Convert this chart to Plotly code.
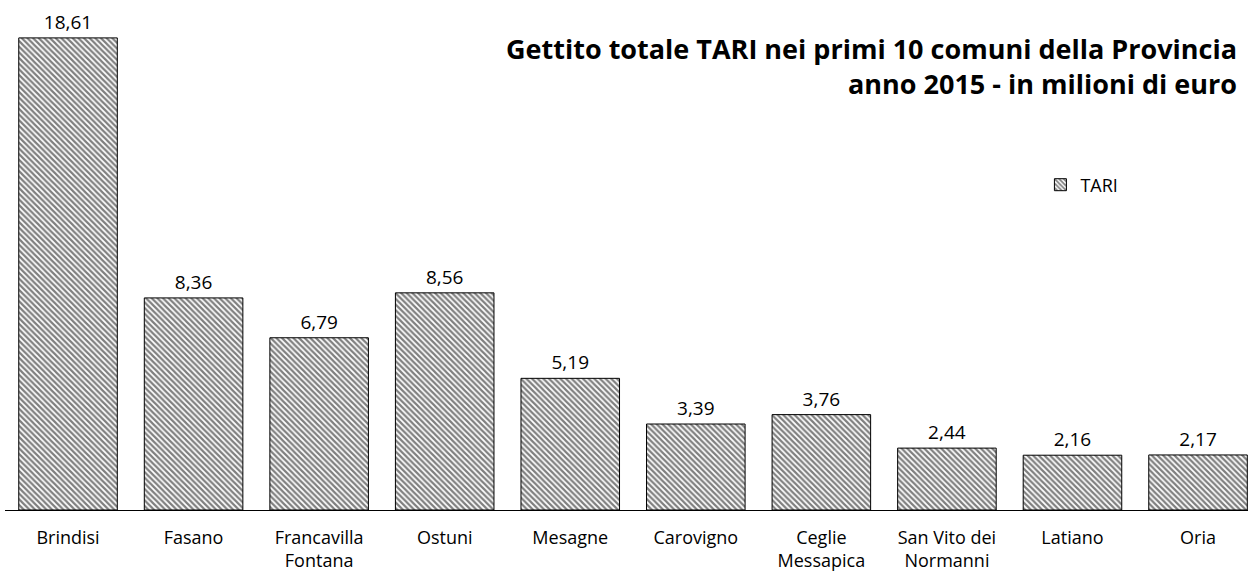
import plotly.graph_objects as go

comuni = ["Brindisi", "Fasano", "Francavilla<br>Fontana", "Ostuni", "Mesagne", "Carovigno",
          "Ceglie<br>Messapica", "San Vito dei<br>Normanni", "Latiano", "Oria"]
tari = [18.61, 8.36, 6.79, 8.56, 5.19, 3.39, 3.76, 2.44, 2.16, 2.17]
labels = [f"{v:.2f}".replace(".", ",") for v in tari]

FONT = "'Open Sans', sans-serif"
xs = list(range(len(comuni)))

fig = go.Figure()
fig.add_trace(go.Bar(
    x=xs, y=tari, name="TARI", width=0.785,
    text=labels, textposition="outside", cliponaxis=False,
    textfont=dict(size=19, color="black", family=FONT),
    marker=dict(color="white", line=dict(color="black", width=1),
                pattern=dict(shape="\\", fgcolor="black", bgcolor="white", size=4, solidity=0.55)),
))

fig.update_layout(
    width=1253, height=572,
    margin=dict(l=5, r=5, t=10, b=62, autoexpand=False),
    plot_bgcolor="white", paper_bgcolor="white",
    showlegend=True,
    legend=dict(x=0.833, y=0.65, xanchor="left", yanchor="middle",
                font=dict(size=18, family=FONT, color="black"),
                bgcolor="rgba(0,0,0,0)"),
    xaxis=dict(range=[-0.502, 9.398], tickmode="array", tickvals=xs, ticktext=comuni,
               showline=True, linecolor="black", linewidth=1, ticks="",
               ticklabelstandoff=11,
               showgrid=False, zeroline=False, automargin=False,
               tickfont=dict(size=18, family=FONT, color="black")),
    yaxis=dict(range=[0, 19.71], visible=False, showgrid=False, automargin=False),
    annotations=[dict(text="<b>Gettito totale TARI nei primi 10 comuni della Provincia<br>anno 2015 - in milioni di euro</b>",
                      xref="paper", yref="paper", x=0.993, y=0.965, xanchor="right", yanchor="top",
                      align="right", showarrow=False,
                      font=dict(size=27, family=FONT, color="black"))],
)

fig.write_html("out.html", config={"displayModeBar": False},
               post_script="document.body.style.margin='0';")
